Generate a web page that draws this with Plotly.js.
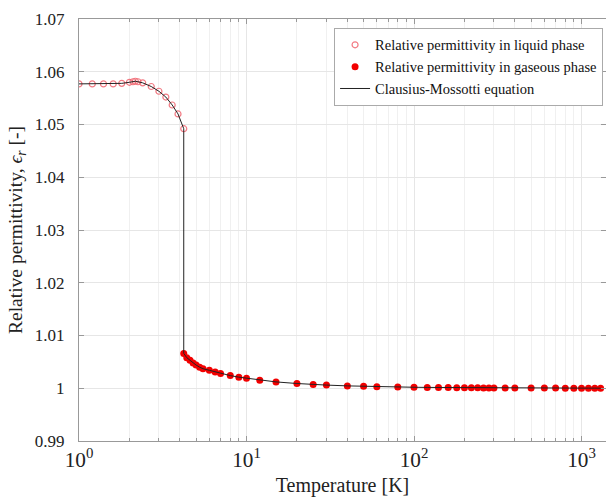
<!DOCTYPE html>
<html>
<head>
<meta charset="utf-8">
<script src="https://cdn.plot.ly/plotly-3.0.1.min.js"></script>
<style>html,body{margin:0;padding:0;background:#fff;}</style>
</head>
<body>
<div id="chart" style="width:606px;height:497px;"></div>
<script>
// Liquid phase
const T_liquid = [1.0, 1.2, 1.4, 1.6, 1.8, 2.0, 2.1, 2.17, 2.25, 2.4, 2.7, 3.0, 3.3, 3.6, 3.9, 4.22];
const eps_liquid = [1.0577, 1.0577, 1.0577, 1.0577, 1.0578, 1.0580, 1.0581, 1.0582, 1.0581, 1.0579, 1.0572, 1.0563, 1.0552, 1.0537, 1.0520, 1.0492];
// Gaseous phase
const T_gas = [4.22, 4.4, 4.6, 4.8, 5.0, 5.25, 5.5, 6.0, 6.5, 7.0, 8, 9, 10, 12, 15, 20, 25, 30, 40, 50, 60, 80, 100, 120, 140, 160, 180, 200, 220, 240, 260, 280, 300, 350, 400, 500, 600, 700, 800, 900, 1000, 1100, 1200, 1300];
const eps_gas = [1.0066, 1.0058, 1.0053, 1.0048, 1.0044, 1.0040, 1.0037, 1.0034, 1.0031, 1.0028, 1.0024, 1.0021, 1.0019, 1.0015, 1.0012, 1.0009, 1.0007, 1.0006, 1.00045, 1.00036, 1.0003, 1.00023, 1.00019, 1.00016, 1.00014, 1.00012, 1.00011, 1.0001, 1.00009, 1.00008, 1.00007, 1.00007, 1.00006, 1.00005, 1.00005, 1.00004, 1.00003, 1.00003, 1.00002, 1.00002, 1.00002, 1.00002, 1.00002, 1.00001];
// Clausius-Mossotti curve
const T_cm = T_liquid.concat(T_gas);
const eps_cm = eps_liquid.concat(eps_gas);

const font = "'Liberation Serif', 'Times New Roman', serif";

const traces = [
  {x: T_liquid, y: eps_liquid, type: 'scatter', mode: 'markers',
   name: 'Relative permittivity in liquid phase',
   marker: {symbol: 'circle-open', size: 6, color: 'rgba(240,100,110,0.85)', line: {width: 1.2}}},
  {x: T_gas, y: eps_gas, type: 'scatter', mode: 'markers',
   name: 'Relative permittivity in gaseous phase',
   marker: {symbol: 'circle', size: 7, color: '#f20000'}},
  {x: T_cm, y: eps_cm, type: 'scatter', mode: 'lines',
   name: 'Clausius-Mossotti equation',
   line: {color: '#222', width: 1}}
];

const layout = {
  width: 606, height: 497,
  margin: {l: 79, r: 0, t: 19, b: 56},
  paper_bgcolor: '#fff', plot_bgcolor: '#fff',
  font: {family: font, size: 15, color: '#222'},
  showlegend: true,
  legend: {x: 0.484, y: 0.979, xanchor: 'left', yanchor: 'top',
    bgcolor: '#fff', bordercolor: '#aaa', borderwidth: 1,
    font: {family: font, size: 14.5, color: '#111'}, tracegroupgap: 0},
  xaxis: {
    type: 'log', range: [0, Math.log10(1400)],
    tickmode: 'linear', tick0: 0, dtick: 1,
    exponentformat: 'power',
    labelalias: {'1': '10<sup>0</sup>', '10': '10<sup>1</sup>'},
    showgrid: true, gridcolor: '#e6e6e6', gridwidth: 1,
    minor: {dtick: 'D1', showgrid: true, gridcolor: '#f0f0f0', ticks: 'inside', ticklen: 3, tickcolor: '#999'},
    ticks: 'inside', ticklen: 5, tickcolor: '#999',
    showline: true, linecolor: '#999', linewidth: 1, mirror: 'allticks',
    zeroline: false,
    tickfont: {family: font, size: 17, color: '#222'},
    title: {text: 'Temperature [K]', font: {family: font, size: 20, color: '#222'}, standoff: 7}
  },
  yaxis: {
    range: [0.99, 1.07], tickmode: 'linear', tick0: 0.99, dtick: 0.01,
    showgrid: true, gridcolor: '#e6e6e6', gridwidth: 1,
    ticks: 'inside', ticklen: 5, tickcolor: '#999',
    showline: true, linecolor: '#999', linewidth: 1, mirror: 'allticks',
    zeroline: false,
    ticklabelstandoff: 10,
    tickfont: {family: font, size: 17, color: '#222'},
    title: {text: 'Relative permittivity, <i>ϵ</i><sub><i>r</i></sub> [-]', font: {family: font, size: 19.5, color: '#222'}, standoff: 7}
  }
};

Plotly.newPlot('chart', traces, layout, {displayModeBar: false, staticPlot: true});
</script>
</body>
</html>
